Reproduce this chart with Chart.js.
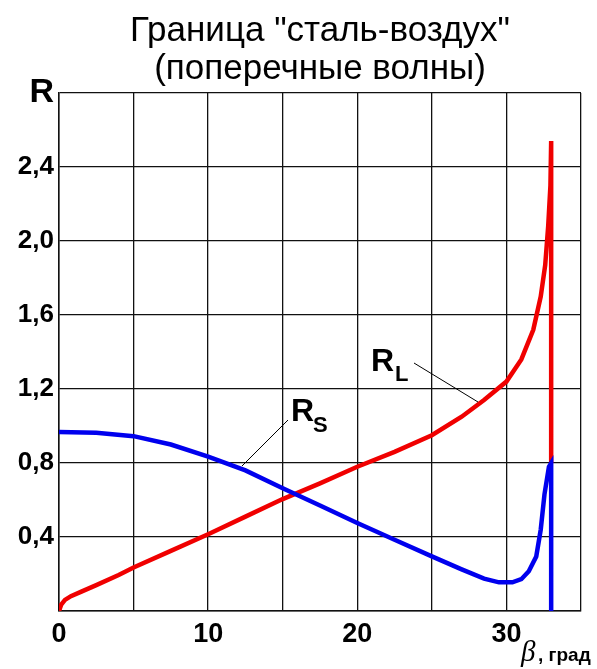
<!DOCTYPE html>
<html>
<head>
<meta charset="utf-8">
<script src="https://cdn.jsdelivr.net/npm/chart.js@4.4.0/dist/chart.umd.min.js"></script>
<style>
  html, body { margin: 0; padding: 0; background: #fff; }
  #wrap { width: 597px; height: 669px; }
</style>
</head>
<body>
<div id="wrap"><canvas id="chart" width="597" height="669"></canvas></div>
<script>
// chart text
const titleLines = ['Граница "сталь-воздух"', '(поперечные волны)'];
const xTickLabels = ['0', '', '10', '', '20', '', '30', ''];
const yTickLabels = ['', '0,4', '0,8', '1,2', '1,6', '2,0', '2,4', 'R'];

// R_L, red curve (angle in degrees -> R)
const rlAngle = [0, 0.15, 0.4, 0.8, 1.5, 2.5, 4, 5, 7.5, 10, 12.5, 15, 17.5, 20, 22.5, 25,
                 27, 28.5, 30, 31, 31.8, 32.3, 32.6, 32.8, 32.95, 33.0, 33.0];
const rlValue = [0, 0.035, 0.06, 0.08, 0.105, 0.14, 0.195, 0.235, 0.325, 0.415, 0.51, 0.605, 0.69, 0.78, 0.86, 0.95,
                 1.05, 1.14, 1.24, 1.36, 1.52, 1.70, 1.87, 2.08, 2.30, 2.54, 0.8];

// R_S, blue curve
const rsAngle = [0, 2.5, 5, 7.5, 10, 12.5, 15, 17.5, 20, 22.5, 25, 27, 28.5, 29.5, 30.4,
                 31, 31.5, 32, 32.3, 32.55, 32.85, 33.0, 33.0];
const rsValue = [0.967, 0.963, 0.945, 0.9, 0.835, 0.76, 0.664, 0.57, 0.476, 0.385, 0.295, 0.225, 0.175, 0.155, 0.155,
                 0.172, 0.215, 0.295, 0.44, 0.63, 0.78, 0.80, 0];

const FONT = '"Liberation Sans", Arial, sans-serif';

function toPoints(xs, ys) {
  return xs.map((x, i) => ({ x: x, y: ys[i] }));
}

// title, curve labels with leader lines, axis name
const labelsPlugin = {
  id: 'labels',
  afterDraw(chart) {
    const ctx = chart.ctx;
    const area = chart.chartArea;
    ctx.save();
    ctx.fillStyle = '#000';
    ctx.textBaseline = 'alphabetic';

    ctx.font = '35px ' + FONT;
    ctx.textAlign = 'center';
    const cx = (area.left + area.right) / 2;
    ctx.fillText(titleLines[0], cx, 41);
    ctx.fillText(titleLines[1], cx, 79);

    ctx.textAlign = 'left';
    ctx.font = 'bold 32px ' + FONT;
    ctx.fillText('R', 371, 371);
    ctx.fillText('R', 291, 421);
    ctx.font = 'bold 22px ' + FONT;
    ctx.fillText('L', 395, 381);
    ctx.fillText('S', 313, 432);

    ctx.strokeStyle = '#000';
    ctx.lineWidth = 1;
    ctx.beginPath();
    ctx.moveTo(414, 363); ctx.lineTo(478, 402);
    ctx.moveTo(288, 420); ctx.lineTo(242, 466);
    ctx.stroke();

    ctx.font = 'italic 29px "Liberation Serif", serif';
    ctx.fillText('\u03B2', 521, 661);
    ctx.font = 'bold 19px ' + FONT;
    ctx.fillText(', град', 538, 661);
    ctx.restore();
  }
};

new Chart(document.getElementById('chart'), {
  type: 'scatter',
  data: {
    datasets: [
      {
        label: 'R_S',
        data: toPoints(rsAngle, rsValue),
        showLine: true,
        borderColor: '#0000ee',
        borderWidth: 4.5,
        pointRadius: 0,
        tension: 0,
        order: 0
      },
      {
        label: 'R_L',
        data: toPoints(rlAngle, rlValue),
        showLine: true,
        borderColor: '#f00000',
        borderWidth: 4.5,
        pointRadius: 0,
        tension: 0,
        order: 1
      }
    ]
  },
  options: {
    responsive: false,
    animation: false,
    layout: { padding: { top: 93, right: 16, left: 0, bottom: 0 } },
    plugins: {
      legend: { display: false },
      tooltip: { enabled: false },
      title: { display: false }
    },
    scales: {
      x: {
        type: 'linear',
        min: 0,
        max: 35,
        afterFit(scale) { scale.height = 58; },
        grid: { color: '#111', lineWidth: 1.3, drawTicks: false },
        border: { color: '#111', width: 1.5 },
        ticks: {
          stepSize: 5,
          padding: 7,
          color: '#000',
          maxRotation: 0,
          autoSkip: false,
          font: { family: FONT, size: 27, weight: 'bold' },
          callback: (v, i) => xTickLabels[i]
        }
      },
      y: {
        type: 'linear',
        min: 0,
        max: 2.8,
        afterFit(scale) { scale.width = 59; },
        grid: { color: '#111', lineWidth: 1.3, drawTicks: false },
        border: { color: '#111', width: 1.5 },
        ticks: {
          stepSize: 0.4,
          padding: 5,
          color: '#000',
          autoSkip: false,
          font: (c) => (c.index === yTickLabels.length - 1
            ? { family: FONT, size: 34, weight: 'bold' }
            : { family: FONT, size: 26, weight: 'bold' }),
          callback: (v, i) => yTickLabels[i]
        }
      }
    }
  },
  plugins: [labelsPlugin]
});
</script>
</body>
</html>
